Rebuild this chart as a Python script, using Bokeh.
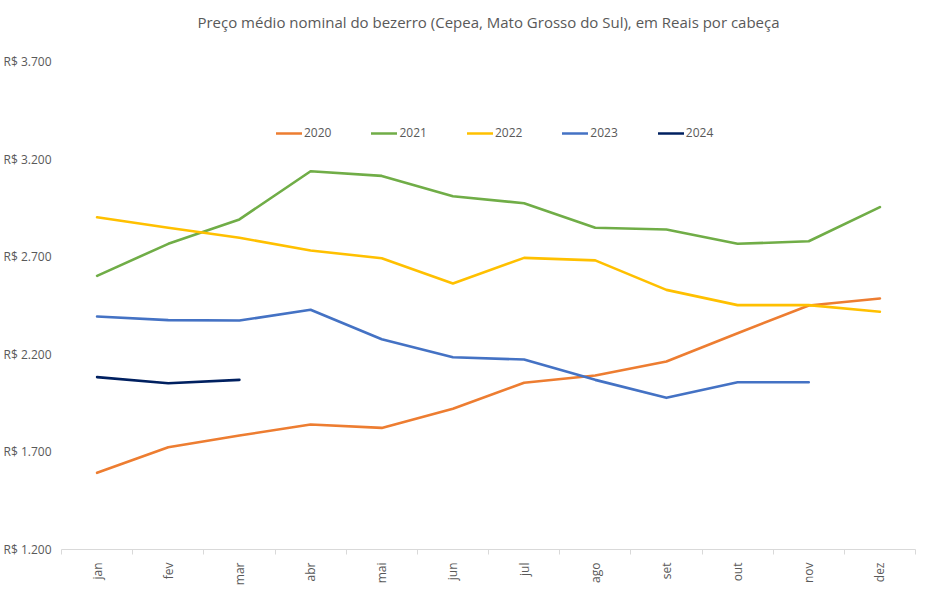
import math
from bokeh.plotting import figure
from bokeh.models import FixedTicker, Legend, LegendItem, Range1d
from bokeh.embed import file_html
from bokeh.resources import INLINE

TITLE = "Preço médio nominal do bezerro (Cepea, Mato Grosso do Sul), em Reais por cabeça"
months = ["jan", "fev", "mar", "abr", "mai", "jun", "jul", "ago", "set", "out", "nov", "dez"]
y_ticks = [1200, 1700, 2200, 2700, 3200, 3700]
y_tick_labels = ["R$ 1.200", "R$ 1.700", "R$ 2.200", "R$ 2.700", "R$ 3.200", "R$ 3.700"]

years = ["2020", "2021", "2022", "2023", "2024"]
v2020 = [1593, 1724, 1784, 1840, 1823, 1921, 2054, 2091, 2163, 2308, 2450, 2486]
v2021 = [2602, 2766, 2891, 3138, 3114, 3010, 2974, 2848, 2839, 2766, 2779, 2954]
v2022 = [2902, 2848, 2797, 2732, 2692, 2563, 2694, 2681, 2530, 2452, 2452, 2418]
v2023 = [2394, 2375, 2373, 2428, 2277, 2185, 2173, 2069, 1977, 2057, 2057]
v2024 = [2083, 2052, 2069]
series = [v2020, v2021, v2022, v2023, v2024]
colors = ["#ED7D31", "#70AD47", "#FFC000", "#4472C4", "#002060"]

TXT = "#595959"
FONT = "Open Sans"

p = figure(frame_width=854, frame_height=488, output_backend="svg", toolbar_location=None,
           x_range=Range1d(0.5, 12.5), y_range=Range1d(1200, 3700),
           min_border_left=55, min_border_right=20, min_border_top=61, min_border_bottom=10,
           title=TITLE + "\n ")
p.outline_line_color = None
p.grid.visible = False
p.background_fill_color = "white"
p.border_fill_color = "white"

p.title.align = "center"
p.title.offset = -15
p.title.text_font = FONT
p.title.text_font_size = "15px"
p.title.text_font_style = "normal"
p.title.text_color = TXT
p.title.standoff = 19

items = []
for name, vals, col in zip(years, series, colors):
    xs = list(range(1, len(vals) + 1))
    r = p.line(xs, vals, line_color=col, line_width=2.6, line_cap="round", line_join="round")
    items.append(LegendItem(label=name, renderers=[r]))

legend = Legend(items=items, orientation="horizontal", location=(215, 408),
                border_line_color=None, background_fill_alpha=0,
                glyph_width=26, glyph_height=12, label_standoff=2, spacing=40,
                label_text_font=FONT, label_text_font_size="12px", label_text_color=TXT,
                padding=4, margin=0)
p.add_layout(legend, "center")

xa = p.xaxis[0]
xa.ticker = FixedTicker(ticks=list(range(1, 13)), minor_ticks=[i + 0.5 for i in range(0, 13)])
xa.major_label_overrides = {i + 1: m for i, m in enumerate(months)}
xa.major_label_orientation = math.pi / 2
xa.major_tick_in = 0
xa.major_tick_out = 0
xa.minor_tick_in = 0
xa.minor_tick_out = 5
xa.minor_tick_line_color = "#D9D9D9"
xa.axis_line_color = "#D9D9D9"
xa.major_label_text_font = FONT
xa.major_label_text_font_size = "12px"
xa.major_label_text_color = TXT
xa.major_label_standoff = 8

ya = p.yaxis[0]
ya.ticker = FixedTicker(ticks=y_ticks)
ya.major_label_overrides = {t: l for t, l in zip(y_ticks, y_tick_labels)}
ya.axis_line_color = None
ya.major_tick_line_color = None
ya.minor_tick_line_color = None
ya.major_label_text_font = FONT
ya.major_label_text_font_size = "12px"
ya.major_label_text_color = TXT
ya.major_label_standoff = 4

open("out.html", "w").write(file_html(p, INLINE))
